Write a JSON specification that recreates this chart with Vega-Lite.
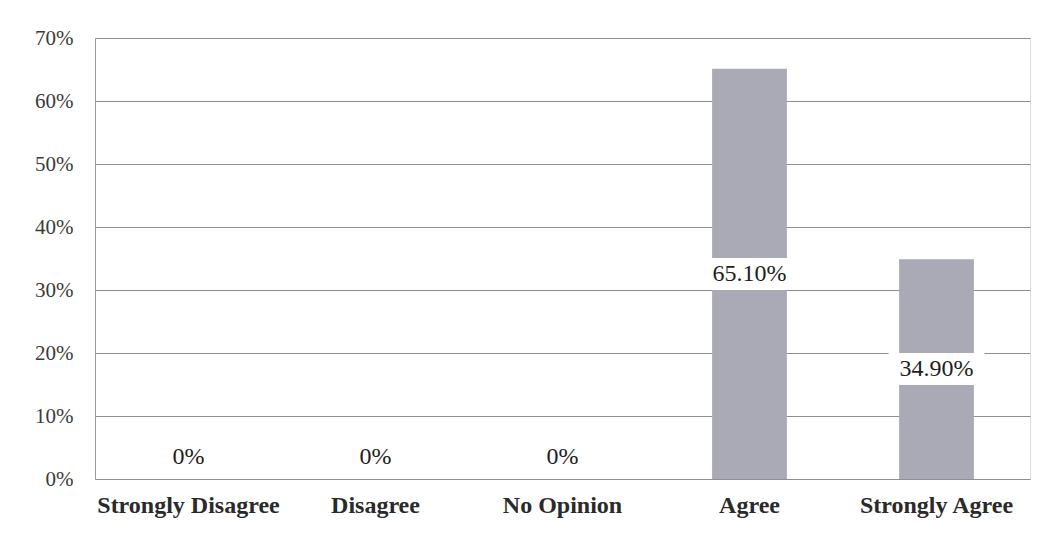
{
  "$schema": "https://vega.github.io/schema/vega-lite/v6.json",
  "autosize": "none",
  "width": 935,
  "height": 441,
  "padding": {"left": 95, "top": 38, "right": 17, "bottom": 60},
  "background": "white",
  "config": {"font": "Liberation Serif", "text": {"font": "Liberation Serif"}},
  "data": {"values": [
    {"response": "Strongly Disagree", "share": 0, "label": "0%"},
    {"response": "Disagree", "share": 0, "label": "0%"},
    {"response": "No Opinion", "share": 0, "label": "0%"},
    {"response": "Agree", "share": 0.651, "label": "65.10%"},
    {"response": "Strongly Agree", "share": 0.349, "label": "34.90%"}
  ]},
  "encoding": {
    "x": {"field": "response", "type": "nominal", "sort": null,
      "scale": {"paddingInner": 0.6, "paddingOuter": 0.3},
      "axis": {"title": null, "labelAngle": 0, "labelFont": "Liberation Serif", "labelFontSize": 24, "labelFontWeight": "bold", "labelColor": "#2a2a2a", "labelLimit": 400, "ticks": false, "domain": false, "labelPadding": 14}
    }
  },
  "resolve": {"scale": {"y": "independent"}},
  "layer": [
    {
      "mark": {"type": "bar", "color": "#aaa9b6"},
      "encoding": {
        "y": {"field": "share", "type": "quantitative",
          "scale": {"domain": [0, 0.7]},
          "axis": {"title": null, "format": ".0%", "values": [0,0.1,0.2,0.3,0.4,0.5,0.6,0.7], "labelFont": "Liberation Serif", "labelFontSize": 21, "labelColor": "#3a3a3a", "ticks": false, "labelPadding": 22, "domainColor": "#999999", "gridColor": "#8f8f8f", "gridWidth": 1}
        }
      }
    },
    {
      "mark": {"type": "tick", "color": "white", "opacity": 1, "size": 96, "thickness": 32},
      "transform": [{"filter": "datum.share > 0"}],
      "encoding": {
        "y": {"field": "share", "type": "quantitative", "scale": {"domain": [0, 1.4]}, "axis": null}
      }
    },
    {
      "mark": {"type": "text", "font": "Liberation Serif", "fontSize": 24, "color": "#1e1e1e", "baseline": "middle"},
      "transform": [{"filter": "datum.share > 0"}],
      "encoding": {
        "y": {"field": "share", "type": "quantitative", "scale": {"domain": [0, 1.4]}, "axis": null},
        "text": {"field": "label"}
      }
    },
    {
      "mark": {"type": "text", "font": "Liberation Serif", "fontSize": 24, "color": "#1e1e1e", "baseline": "middle", "dy": -22},
      "transform": [{"filter": "datum.share == 0"}],
      "encoding": {
        "y": {"field": "share", "type": "quantitative", "scale": {"domain": [0, 1.4]}, "axis": null},
        "text": {"field": "label"}
      }
    }
  ]
}
